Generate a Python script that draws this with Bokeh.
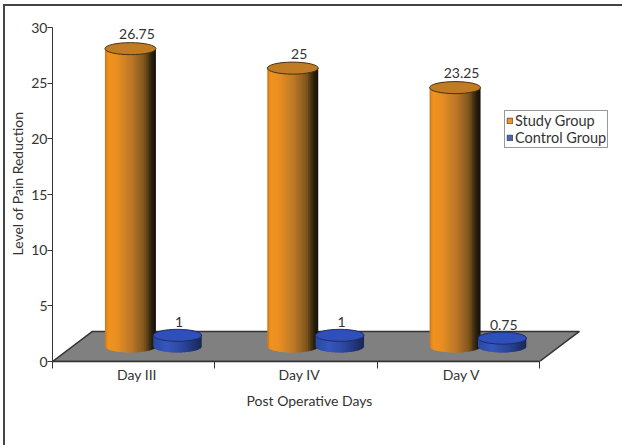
import math
from bokeh.embed import file_html
from bokeh.resources import INLINE
from bokeh.models import (Range1d, FixedTicker, Legend, LegendItem, Title)
from bokeh.plotting import figure

categories = ["Day III", "Day IV", "Day V"]
study = [26.75, 25, 23.25]
control = [1, 1, 0.75]
y_ticks = [0, 5, 10, 15, 20, 25, 30]
x_title = "Post Operative Days"
y_title = "Level of Pain Reduction"

FONT = "Lato"
TXT = "#333333"
W, H = 622, 445
L, R, T, B = 52, 4, 27, 84
FRAME_BOTTOM = H - B

p = figure(width=W, height=H, output_backend="svg", toolbar_location=None,
           x_range=Range1d(0, (W - L - R) / 162.33), y_range=Range1d(0, 30),
           min_border_left=L, min_border_right=R, min_border_top=T, min_border_bottom=B)
p.outline_line_color = None
p.grid.visible = False
p.background_fill_color = None
p.border_fill_color = None
# left and top rule of the printed page's frame
p.styles = {"background": "linear-gradient(#444,#444) 3px 4px/2px 100% no-repeat,"
                          "linear-gradient(#444,#444) 3px 4px/100% 2px no-repeat"}

# axes
ax = p.xaxis[0]
ax.bounds = (0, 3)
label_pos = [i + 0.52 for i in range(3)]
ax.ticker = FixedTicker(ticks=label_pos, minor_ticks=[0, 1, 2, 3])
ax.major_label_overrides = dict(zip(label_pos, categories))
ax.major_tick_in = 0
ax.major_tick_out = 0
ax.minor_tick_in = 0
ax.minor_tick_out = 7
ax.minor_tick_line_color = TXT
ax.axis_line_color = TXT
ax.axis_line_width = 1.5
ax.major_label_standoff = -3
ax.major_label_text_font = FONT
ax.major_label_text_font_size = "14px"
ax.major_label_text_color = TXT

ay = p.yaxis[0]
ay.ticker = FixedTicker(ticks=y_ticks, minor_ticks=[])
ay.major_tick_in = 0
ay.major_tick_out = 5
ay.major_tick_line_color = TXT
ay.axis_line_color = TXT
ay.major_label_standoff = 0
ay.major_label_text_font = FONT
ay.major_label_text_font_size = "14px"
ay.major_label_text_color = TXT

# floor
DX, DY = 0.246, 2.7
p.patch([0, 3, 3 + DX, DX], [0, 0, DY, DY], fill_color="#808080",
        line_color="#333333", line_width=1.5)

OFFSET = 1.35      # depth of the bars on the floor
HALF_W = 0.157
HALF_H = 0.54
ORANGE = [(0, "#b8721c"), (.07, "#f2921e"), (.25, "#e88f22"), (.55, "#b87528"),
          (.78, "#80561c"), (.92, "#2c2210"), (1, "#141008")]
BLUE = [(0, "#2a48a4"), (.3, "#3557bd"), (.65, "#2a4498"), (.9, "#1e2f68"), (1, "#1a2856")]


def mix(stops, u):
    for (a, ca), (b, cb) in zip(stops, stops[1:]):
        if u <= b:
            t = (u - a) / (b - a)
            rgb = [round(int(ca[i:i + 2], 16) * (1 - t) + int(cb[i:i + 2], 16) * t)
                   for i in (1, 3, 5)]
            return "#%02x%02x%02x" % tuple(rgb)
    return stops[-1][1]


def cylinder(cx, val, stops, top_fill, top_line, half_w):
    n = 30
    xs, ys, cs = [], [], []
    for k in range(n):
        u0 = k / n
        u1 = min(1, (k + 1.6) / n)
        pts = [u0 + (u1 - u0) * j / 4 for j in range(5)]
        xx = [cx + half_w * (2 * u - 1) for u in pts]
        yy = [OFFSET - HALF_H * math.sqrt(max(0, 1 - (2 * u - 1) ** 2)) for u in pts]
        xs.append(xx + [xx[-1], xx[0]])
        ys.append(yy + [OFFSET + val, OFFSET + val])
        cs.append(mix(stops, (u0 + u1) / 2))
    p.patches(xs, ys, fill_color=cs, line_color=None)
    p.ellipse([cx], [OFFSET + val], width=2 * half_w, height=2 * HALF_H,
              fill_color=top_fill, line_color=top_line, line_width=1)


for i in range(3):
    cylinder(i + 0.5 - 0.02, study[i], ORANGE, "#c07c24", "#4a3010", HALF_W)
    cylinder(i + 0.5 + 0.27, control[i], BLUE, "#2f50ba", "#1c2c66", HALF_W * 0.95)

# value labels
lx = [i + 0.5 + 0.02 for i in range(3)] + [i + 0.5 + 0.28 for i in range(3)]
ly = [v + 2.2 for v in study] + [v + 2.1 for v in control]
lt = [str(v) for v in study] + [str(v) for v in control]
p.text(lx, ly, text=lt, text_align="center", text_baseline="bottom",
       text_font={"value": FONT}, text_font_size="14px", text_color=TXT)

# legend
r1 = p.quad(left=[math.nan], right=[math.nan], top=[math.nan], bottom=[math.nan], fill_color="#f7941d", line_color="#333333", line_width=0.7)
r2 = p.quad(left=[math.nan], right=[math.nan], top=[math.nan], bottom=[math.nan], fill_color="#4a66b0", line_color="#333333", line_width=0.7)
leg = Legend(items=[LegendItem(label="Study Group", renderers=[r1]),
                    LegendItem(label="Control Group", renderers=[r2])],
             location=(504 - L, FRAME_BOTTOM - 148), orientation="vertical",
             glyph_width=7, glyph_height=7, label_height=14, spacing=0,
             padding=1, margin=0, label_standoff=2,
             label_text_font=FONT, label_text_font_size="14.5px", label_text_color=TXT,
             border_line_color="#333333", border_line_width=1.2, background_fill_alpha=1)
p.add_layout(leg, "center")

# axis titles, placed along the axis by an offset from the frame's start
p.add_layout(Title(text=x_title, align="left", offset=194, standoff=8, text_font=FONT,
                   text_font_size="14px", text_font_style="normal", text_color=TXT), "below")
p.add_layout(Title(text=y_title, align="left", offset=106, standoff=6, text_font=FONT,
                   text_font_size="14px", text_font_style="normal", text_color=TXT), "left")

open("out.html", "w").write(file_html(p, INLINE))
